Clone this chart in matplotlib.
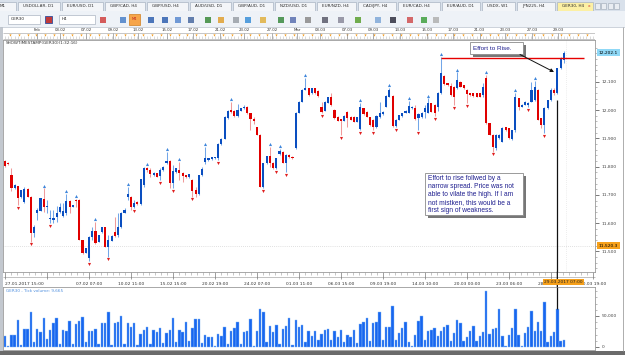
import matplotlib.pyplot as plt
import numpy as np
from matplotlib.patches import Rectangle, ConnectionPatch
from matplotlib.transforms import blended_transform_factory

W, H = 625, 355

# GER30 H4 candles (oldest first)
opens = [11821, 11814, 11770, 11723, 11731, 11691, 11676, 11721, 11694, 11566,
         11637, 11644, 11685, 11658, 11615, 11611, 11623, 11641, 11626, 11635,
         11678, 11658, 11683, 11682, 11541, 11496, 11476, 11552, 11573, 11535,
         11570, 11585, 11517, 11538, 11570, 11558, 11585, 11637, 11691, 11694,
         11658, 11676, 11668, 11735, 11796, 11788, 11770, 11776, 11767, 11788,
         11812, 11821, 11743, 11780, 11788, 11778, 11770, 11762, 11753, 11717,
         11703, 11770, 11817, 11823, 11826, 11829, 11829, 11880, 11898, 11971,
         12000, 11998, 11979, 11998, 12006, 12012, 11988, 11967, 11939, 11912,
         11729, 11812, 11837, 11814, 11794, 11845, 11853, 11814, 11841, 11835,
         11865, 11990, 12029, 12071, 12077, 12059, 12077, 12068, 12012, 11998,
         12026, 12045, 12000, 11976, 11967, 11962, 11994, 11976, 11976, 11959,
         11932, 12006, 11994, 11974, 11965, 11939, 11974, 11986, 12012, 12047,
         12051, 11943, 11965, 11979, 11990, 11990, 12006, 12006, 11971, 11974,
         11994, 11990, 12024, 12018, 12012, 12059, 12120, 12094, 12085, 12082,
         12077, 12100, 12088, 12071, 12059, 12059, 12059, 12059, 12053, 12112,
         11953, 11912, 11865, 11900, 11888, 11939, 11935, 11896, 11929, 12041,
         12012, 12018, 12018, 12029, 12035, 12071, 11971, 11947, 12006, 12035,
         12071, 12059, 12147, 12177]
highs = [11823, 11816, 11794, 11737, 11733, 11719, 11729, 11723, 11696, 11594,
         11653, 11690, 11723, 11682, 11647, 11647, 11662, 11670, 11670, 11703,
         11682, 11666, 11685, 11684, 11541, 11513, 11554, 11588, 11605, 11560,
         11588, 11587, 11558, 11557, 11623, 11637, 11640, 11653, 11727, 11696,
         11682, 11678, 11757, 11800, 11800, 11794, 11780, 11778, 11794, 11802,
         11853, 11823, 11806, 11796, 11817, 11780, 11772, 11775, 11755, 11729,
         11772, 11797, 11870, 11831, 11835, 11835, 11882, 11900, 11978, 12000,
         12029, 12000, 12020, 12008, 12018, 12014, 11990, 11974, 11941, 11914,
         11814, 11839, 11870, 11816, 11831, 11863, 11855, 11843, 11843, 11837,
         11992, 12031, 12073, 12112, 12079, 12079, 12079, 12070, 12027, 12031,
         12047, 12059, 12002, 11978, 11969, 11981, 11996, 11978, 11978, 11976,
         12024, 12008, 11996, 11976, 11967, 11981, 12029, 11996, 12053, 12077,
         12053, 11967, 11984, 11990, 12000, 12033, 12014, 12018, 11988, 11992,
         12018, 12041, 12026, 12020, 12065, 12188, 12122, 12096, 12094, 12084,
         12133, 12102, 12090, 12073, 12061, 12061, 12061, 12061, 12094, 12124,
         11955, 11914, 11914, 11914, 11941, 11941, 11937, 11931, 12059, 12043,
         12020, 12031, 12028, 12100, 12102, 12073, 11973, 12012, 12037, 12077,
         12079, 12149, 12188, 12210]
lows = [11799, 11807, 11715, 11721, 11664, 11689, 11670, 11692, 11535, 11552,
        11611, 11642, 11641, 11635, 11600, 11600, 11605, 11635, 11623, 11629,
        11635, 11656, 11658, 11539, 11492, 11494, 11467, 11541, 11526, 11533,
        11566, 11515, 11482, 11536, 11552, 11552, 11583, 11635, 11682, 11647,
        11653, 11666, 11666, 11729, 11782, 11762, 11768, 11762, 11753, 11786,
        11809, 11723, 11723, 11778, 11753, 11747, 11760, 11760, 11694, 11694,
        11701, 11768, 11809, 11821, 11824, 11827, 11823, 11878, 11896, 11967,
        11990, 11977, 11976, 11996, 12004, 11986, 11929, 11951, 11910, 11727,
        11723, 11810, 11800, 11792, 11792, 11841, 11812, 11782, 11831, 11827,
        11863, 11988, 12027, 12069, 12051, 12057, 12057, 12047, 11990, 11996,
        12024, 12014, 11969, 11960, 11912, 11960, 11941, 11963, 11957, 11957,
        11929, 11984, 11974, 11945, 11929, 11937, 11971, 11984, 12010, 12045,
        11941, 11939, 11963, 11977, 11988, 11988, 12004, 11965, 11929, 11972,
        11971, 11988, 11992, 11979, 11998, 12057, 12090, 12086, 12051, 12018,
        12075, 12080, 12075, 12024, 12051, 12047, 12045, 12045, 12047, 11951,
        11910, 11853, 11859, 11898, 11886, 11927, 11898, 11894, 11923, 12000,
        12010, 12016, 12011, 12027, 12033, 11963, 11935, 11918, 12004, 12033,
        12053, 12057, 12145, 12165]
closes = [11802, 11809, 11723, 11735, 11688, 11717, 11721, 11694, 11566, 11585,
          11647, 11688, 11658, 11662, 11619, 11617, 11635, 11658, 11644, 11678,
          11658, 11664, 11679, 11541, 11494, 11511, 11552, 11573, 11531, 11558,
          11585, 11517, 11541, 11555, 11555, 11585, 11637, 11647, 11703, 11658,
          11672, 11668, 11755, 11796, 11788, 11774, 11778, 11764, 11788, 11800,
          11821, 11741, 11784, 11794, 11776, 11767, 11762, 11773, 11715, 11703,
          11770, 11790, 11829, 11829, 11833, 11833, 11880, 11898, 11976, 11998,
          11994, 11979, 12000, 12006, 12012, 11988, 11967, 11962, 11912, 11729,
          11812, 11837, 11812, 11794, 11829, 11856, 11814, 11841, 11833, 11829,
          11990, 12029, 12071, 12077, 12053, 12077, 12059, 12049, 11994, 12029,
          12045, 12018, 11971, 11962, 11962, 11979, 11971, 11965, 11959, 11974,
          12010, 11986, 11976, 11947, 11939, 11979, 11988, 11994, 12049, 12071,
          11943, 11965, 11982, 11988, 11998, 12014, 12012, 11968, 11986, 11990,
          12006, 12024, 11994, 11988, 12059, 12130, 12092, 12088, 12053, 12047,
          12106, 12082, 12077, 12057, 12053, 12049, 12047, 12047, 12082, 11953,
          11912, 11870, 11912, 11912, 11935, 11929, 11900, 11929, 12045, 12012,
          12018, 12029, 12026, 12071, 12082, 11965, 11947, 12006, 12035, 12071,
          12061, 12147, 12183, 12203]
# tick volume, thousands
volumes = [18, 2, 20, 20, 44, 4, 29, 29, 56, 8,
           29, 24, 47, 13, 28, 38, 46, 5, 28, 26,
           42, 5, 37, 42, 48, 8, 25, 25, 29, 5,
           38, 38, 56, 3, 38, 41, 50, 5, 39, 32,
           39, 4, 21, 28, 32, 5, 27, 24, 31, 6,
           23, 27, 46, 8, 28, 24, 41, 9, 31, 45,
           45, 6, 19, 16, 16, 1, 21, 17, 33, 5,
           26, 31, 40, 5, 24, 25, 45, 2, 26, 61,
           56, 8, 34, 24, 36, 5, 29, 34, 47, 4,
           43, 32, 36, 8, 25, 18, 26, 11, 21, 28,
           29, 11, 26, 16, 28, 8, 20, 16, 28, 6,
           37, 41, 46, 9, 39, 40, 57, 12, 32, 32,
           66, 11, 23, 31, 41, 8, 1, 20, 42, 50,
           11, 25, 28, 31, 17, 26, 33, 36, 9, 23,
           44, 39, 9, 16, 26, 34, 9, 17, 24, 90,
           21, 29, 31, 62, 17, 1, 20, 31, 62, 20,
           1, 23, 33, 58, 25, 40, 25, 72, 8, 17,
           24, 62, 9, 11]

fractal_up = [12, 19, 22, 28, 38, 44, 50, 54, 62, 70, 82, 85, 93, 110, 119,
              125, 131, 135, 140, 149, 158, 164]
fractal_down = [4, 8, 14, 26, 32, 40, 48, 52, 58, 66, 80, 84, 87, 98, 104, 110,
                114, 121, 128, 133, 139, 143, 151, 162, 167]

first_label = '27.01.2017 15:00'
time_labels = ['07.02 07:00', '10.02 11:00', '15.02 15:00', '20.02 19:00',
               '24.02 07:00', '01.03 11:00', '06.03 15:00', '09.03 19:00',
               '14.03 10:00', '20.03 00:00', '23.03 06:00', '28.03 11:00',
               '30.03 19:00']
day_labels = ['Feb', '03.02', '07.02', '09.02', '13.02', '15.02', '17.02', '21.02',
              '23.02', '27.02', 'Mar', '03.03', '07.03', '09.03', '13.03', '15.03',
              '17.03', '21.03', '23.03', '27.03', '29.03']
day_bars = [9.8, 17, 25.1, 33.4, 41.2, 50.2, 58.2, 66.6, 74, 82.7, 90.4, 97.5,
            105.9, 113.9, 122.3, 130.7, 138.7, 147, 154.8, 163.2, 171.2]
# 12,200 sits under the last-price marker, so only its tick is drawn
price_ticks = [11500, 11600, 11700, 11800, 11900, 12000, 12100]

peak_bar = 135
high_level = 12184
bid_price = 11520.3
last_price = 12202.1
stamp_bar = 171
stamp_label = '29.03.2017 07:00'

tabs = [('M1', -5, 16), ('USDOLLAR, D1', 18, 60), ('EUR/USD, D1', 62, 103),
        ('GBP/CAD, H4', 105, 145), ('GBP/USD, H4', 147, 188), ('AUD/USD, D1', 190, 231),
        ('GBP/AUD, D1', 233, 273), ('NZD/USD, D1', 275, 315), ('EUR/NZD, H4', 317, 356),
        ('CAD/JPY, H4', 358, 396), ('EUR/CAD, H4', 398, 440), ('EUR/AUD, D1', 442, 480),
        ('USDX, W1', 482, 515), ('JPN225, H4', 517, 555), ('GER30, H4', 557, 593)]
tool_icons = [(100, '#d04040'), (120, '#4a80c8'), (148, '#3060b0'), (162, '#3060b0'),
              (175, '#5a8ad0'), (188, '#4a6aa0'), (205, '#3a8a3a'), (218, '#e0a030'),
              (233, '#9aa0a8'), (245, '#3a90d8'), (260, '#e0b040'), (278, '#3a8a40'),
              (290, '#5a70b0'), (305, '#8a8a8a'), (322, '#5a5a6a'), (338, '#8a8a9a'),
              (355, '#5aa030'), (375, '#80a8d8'), (390, '#303040'), (407, '#d05050'),
              (421, '#40a040'), (433, '#b0b0b0')]

note_top = 'Effort to Rise.'
note_bottom = ('Effort to rise follwed by a\nnarrow spread. Price was not\n'
               'able to vilate the high. If I am\nnot mistken, this would be a\n'
               'first sign of weakness.')

o, hi, lo, c = (np.array(a, dtype=float) for a in (opens, highs, lows, closes))
vol = np.array(volumes) * 1000
idx = np.arange(len(o))
up = c >= o
XMIN, XMAX = -0.62, 182.66


def box(x0, y0, x1, y1):
    return [x0 / W, 1 - y1 / H, (x1 - x0) / W, (y1 - y0) / H]


fig = plt.figure(figsize=(W / 100, H / 100), dpi=100)
fig.patch.set_facecolor('white')

# window chrome
bg = fig.add_axes([0, 0, 1, 1])
bg.set_xlim(0, W)
bg.set_ylim(H, 0)
bg.axis('off')
bg.add_patch(Rectangle((0, 0), W, 11, fc='#d9e1eb', ec='none'))
for name, x0, x1 in tabs:
    fc = '#fcf0a4' if name.startswith('GER30') else '#f3f5f8'
    bg.add_patch(Rectangle((x0, 1.5), x1 - x0, 9.5, fc=fc, ec='#a9b4c3', lw=0.5))
    bg.text(x0 + 5, 6.3, name, fontsize=3, va='center', color='#2a2a2a')
bg.text(588, 6.3, 'x', fontsize=3.2, va='center', color='#d03030')
for x0 in (595, 601, 608, 614):
    bg.add_patch(Rectangle((x0, 2.5), 5, 6, fc='#e9edf2', ec='#9aa5b4', lw=0.4))
bg.add_patch(Rectangle((0, 11), W, 16, fc='#eef2f7', ec='none'))
bg.hlines(27, 0, W, color='#b8c0cc', lw=0.5)
bg.add_patch(Rectangle((8, 15), 32, 9, fc='white', ec='#9aa5b4', lw=0.4))
bg.text(11, 19.5, 'GER30', fontsize=3, va='center', color='#222')
bg.add_patch(Rectangle((59, 15), 36, 9, fc='white', ec='#9aa5b4', lw=0.4))
bg.text(62, 19.5, 'H4', fontsize=3, va='center', color='#222')
bg.add_patch(Rectangle((45, 16), 7, 7, fc='#c03a3a', ec='#3050a0', lw=0.6))
bg.add_patch(Rectangle((129, 14), 11, 11, fc='#f6a54a', ec='#d08020', lw=0.5))
bg.text(134.5, 19.5, 'M4', fontsize=2.6, ha='center', va='center', color='#c02020')
for x0, col in tool_icons:
    bg.add_patch(Rectangle((x0, 17), 6, 6, fc=col, ec='none', alpha=0.85))
bg.add_patch(Rectangle((0, 27), 2.5, 325, fc='#c3c8cf', ec='none'))
bg.vlines(622.5, 27, 351, color='#a0a0a0', lw=0.6)
bg.hlines(277, 3, 595, color='#a8a8a8', lw=0.5)
bg.add_patch(Rectangle((0, 351), W, 4, fc='#6b6b6b', ec='none'))

# top date ruler
rul = fig.add_axes(box(3, 27, 595, 40))
rul.set_xlim(XMIN, XMAX)
rul.set_ylim(0, 1)
rul.axis('off')
rul.hlines([0.08, 0.54], XMIN, XMAX, color='#b0b0b0', lw=0.5)
rul.vlines(np.arange(0, 183, 1.0), 0.08, 0.3, color='#c0c0c0', lw=0.4)
rul.vlines(day_bars, 0.08, 0.54, color='#909090', lw=0.5)
pins = np.arange(1.5, 183, 2.75)
rul.scatter(pins, np.full(len(pins), 0.38), marker='v', s=2.5, color='#f39a1c', lw=0)
for lab, b in zip(day_labels, day_bars):
    rul.text(b, 0.78, lab, fontsize=2.8, ha='center', va='center', color='#333')

# main price panel
ax = fig.add_axes(box(3, 40, 595, 272))
ax.set_xlim(XMIN, XMAX)
ax.set_ylim(11427.5, 12247.4)
wick_col = np.where(up, '#72a6e8', '#f09a9a')
body_col = np.where(up, '#0a4ec0', '#e00000')
ax.vlines(idx, lo, hi, colors=wick_col, lw=0.75, zorder=2)
ax.bar(idx, np.maximum(np.abs(c - o), 2.5), bottom=np.minimum(o, c), width=0.66,
       color=body_col, lw=0, zorder=3)
ax.scatter(fractal_up, hi[fractal_up] + 10, marker='^', s=5, color='#3f86db', lw=0, zorder=4)
ax.scatter(fractal_down, lo[fractal_down] - 10, marker='v', s=5, color='#e02020', lw=0, zorder=4)
ax.hlines(high_level, peak_bar, 179.3, color='#e60000', lw=1.0, zorder=5)
ax.axhline(bid_price, color='#c4c4c4', lw=0.5, ls=(0, (1, 2)), zorder=1)
ax.axvline(173.6, color='#dcdcdc', lw=0.5, ls=(0, (1, 2)), zorder=1)
ax.vlines(stamp_bar, 11427.5, lo[stamp_bar] - 20, color='#111', lw=0.9, zorder=5)

ax.yaxis.tick_right()
ax.set_yticks(price_ticks)
ax.set_yticklabels([f'{p:,}' for p in price_ticks])
ax.set_yticks(np.arange(11440, 12240, 20), minor=True)
ax.tick_params(axis='y', which='major', length=3, width=0.5, pad=1.5,
               labelsize=3.2, colors='#444')
ax.tick_params(axis='y', which='minor', length=1.5, width=0.4, colors='#888')
ax.set_xticks(np.arange(0, 183, 13))
ax.set_xticklabels([first_label, ''] + time_labels)
ax.get_xticklabels()[0].set_ha('left')
ax.set_xticks(np.arange(0, 183, 13 / 7), minor=True)
ax.tick_params(axis='x', which='major', direction='out', length=5, width=0.5,
               pad=2.2, labelsize=3.2, color='#777', labelcolor='#333')
ax.tick_params(axis='x', which='minor', direction='out', length=2.5, width=0.4, color='#999')
for s in ax.spines.values():
    s.set_color('#9a9a9a')
    s.set_linewidth(0.6)
ax.text(0.005, 0.995, 'SHOWTIMESTAMP(GER30)(1:32:16)', transform=ax.transAxes,
        fontsize=3, va='top', color='#333')
ax.annotate(f'{last_price:,.1f}', xy=(1, last_price), xycoords=('axes fraction', 'data'),
            xytext=(4, 0), textcoords='offset pixels', fontsize=3.2, va='center',
            annotation_clip=False,
            bbox=dict(boxstyle='square,pad=0.35', fc='#8fd8f6', ec='none'))
ax.annotate(f'{bid_price:,.1f}', xy=(1, bid_price), xycoords=('axes fraction', 'data'),
            xytext=(4, 0), textcoords='offset pixels', fontsize=3.2, va='center',
            annotation_clip=False,
            bbox=dict(boxstyle='square,pad=0.35', fc='#f6a01a', ec='none'))

# volume panel
vax = fig.add_axes(box(3, 287, 595, 350))
vax.set_xlim(XMIN, XMAX)
vax.set_ylim(-4839, 96774)
vax.bar(idx, vol, width=0.74, color='#1766ef', edgecolor='#86b8f5', lw=0.3)
vax.vlines(stamp_bar, vol[stamp_bar], 96774, color='#111', lw=0.9)
vax.yaxis.tick_right()
vax.set_yticks([0, 50000])
vax.set_yticklabels(['0', '50,000'])
vax.set_yticks(np.arange(0, 96000, 10000), minor=True)
vax.set_xticks([])
vax.tick_params(axis='y', which='major', length=3, width=0.5, pad=1.5,
                labelsize=3.2, colors='#444')
vax.tick_params(axis='y', which='minor', length=1.5, width=0.4, colors='#888')
for s in vax.spines.values():
    s.set_color('#9a9a9a')
    s.set_linewidth(0.6)
vax.text(0.005, 0.97, 'GER30 - Tick volume: 9,665', transform=vax.transAxes,
         fontsize=3, va='top', color='#4f8fdf')

# timestamp line through the date row, and its label
fig.add_artist(ConnectionPatch(xyA=(stamp_bar, 11427.5), coordsA=ax.transData,
                               xyB=(stamp_bar, 96774), coordsB=vax.transData,
                               color='#111', lw=0.9, zorder=1))
fig.text(stamp_bar + 2, 1 - 282 / H, stamp_label, fontsize=3.2, ha='center', va='center',
         color='#222', zorder=3,
         transform=blended_transform_factory(ax.transData, fig.transFigure),
         bbox=dict(boxstyle='square,pad=0.3', fc='#f6a01a', ec='none'))

# notes
note = fig.add_axes([0, 0, 1, 1])
note.set_xlim(0, W)
note.set_ylim(H, 0)
note.axis('off')
note.patch.set_alpha(0)
note.add_patch(Rectangle((472.5, 44.5), 53, 12, fc='#555555', ec='none', alpha=0.8))
note.add_patch(Rectangle((470, 42), 53, 12, fc='white', ec='#8a8a8a', lw=0.6))
note.text(473, 48.3, note_top, fontsize=4.6, family='Liberation Sans', va='center',
          color='#1f1f8f')
note.add_patch(Rectangle((427.5, 175.5), 98, 42, fc='#555555', ec='none', alpha=0.8))
note.add_patch(Rectangle((425, 173), 98, 42, fc='white', ec='#8a8a8a', lw=0.6))
note.text(428, 175.5, note_bottom, fontsize=4.8, family='Liberation Sans', va='top',
          color='#1f1f8f', linespacing=1.2)
note.annotate('', xy=(554, 72), xytext=(520, 54.5),
              arrowprops=dict(arrowstyle='-|>', color='#111', lw=0.7,
                              mutation_scale=5, shrinkA=0, shrinkB=0))

fig.savefig('out.png', dpi=100)
